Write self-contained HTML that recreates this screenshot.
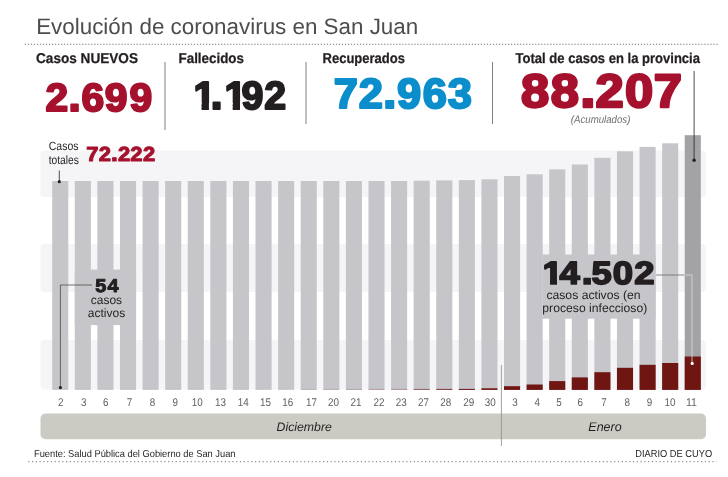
<!DOCTYPE html>
<html lang="es"><head><meta charset="utf-8"><title>Evolución de coronavirus en San Juan</title>
<style>
html,body{margin:0;padding:0;background:#fff;}
body{width:728px;height:477px;overflow:hidden;}
svg{display:block;}
text{font-family:"Liberation Sans",sans-serif;text-rendering:geometricPrecision;}
.b{font-weight:bold;}
.i{font-style:italic;}
.big{font-weight:bold;stroke-linejoin:round;}
.ga{fill-opacity:var(--a,1);stroke-opacity:var(--a,1);}
.gb{fill-opacity:var(--b,1);stroke-opacity:var(--b,1);}
</style></head><body>
<svg width="728" height="477" viewBox="0 0 728 477">
<rect width="728" height="477" fill="#fff"/>
<line x1="24.8" y1="44.3" x2="718" y2="44.3" stroke="#8f8f8f" stroke-width="1.2" stroke-dasharray="1.2 1.82"/>
<line x1="28.2" y1="461.7" x2="716.5" y2="461.7" stroke="#8f8f8f" stroke-width="1.2" stroke-dasharray="1.2 2.58"/>
<text x="36.2" y="34.1" font-size="22.3" fill="#4d4d4f" textLength="382" lengthAdjust="spacingAndGlyphs">Evolución de coronavirus en San Juan</text>
<rect x="40.5" y="150.5" width="665.5" height="46.50" rx="4" fill="#f5f5f8"/>
<rect x="40.5" y="244" width="665.5" height="48.00" rx="4" fill="#f5f5f8"/>
<rect x="40.5" y="340" width="665.5" height="49.60" rx="4" fill="#f5f5f8"/>
<line x1="165" y1="62" x2="165" y2="130" stroke="#808080" stroke-width="1"/>
<line x1="306" y1="62" x2="306" y2="124" stroke="#808080" stroke-width="1"/>
<line x1="492.5" y1="62" x2="492.5" y2="124" stroke="#808080" stroke-width="1"/>
<rect x="52.20" y="181.0" width="16.1" height="208.90" fill="#c6c6ca"/>
<rect x="74.79" y="181.0" width="16.1" height="208.90" fill="#c6c6ca"/>
<rect x="97.38" y="181.0" width="16.1" height="208.90" fill="#c6c6ca"/>
<rect x="119.97" y="181.0" width="16.1" height="208.90" fill="#c6c6ca"/>
<rect x="142.56" y="181.0" width="16.1" height="208.90" fill="#c6c6ca"/>
<rect x="165.15" y="181.0" width="16.1" height="208.90" fill="#c6c6ca"/>
<rect x="187.74" y="181.0" width="16.1" height="208.90" fill="#c6c6ca"/>
<rect x="210.33" y="181.0" width="16.1" height="208.90" fill="#c6c6ca"/>
<rect x="232.92" y="181.0" width="16.1" height="208.90" fill="#c6c6ca"/>
<rect x="255.51" y="181.0" width="16.1" height="208.90" fill="#c6c6ca"/>
<rect x="278.10" y="181.0" width="16.1" height="208.90" fill="#c6c6ca"/>
<rect x="300.69" y="181.0" width="16.1" height="208.90" fill="#c6c6ca"/>
<rect x="323.28" y="181.0" width="16.1" height="208.90" fill="#c6c6ca"/>
<rect x="345.87" y="181.0" width="16.1" height="208.90" fill="#c6c6ca"/>
<rect x="368.46" y="181.0" width="16.1" height="208.90" fill="#c6c6ca"/>
<rect x="391.05" y="181.0" width="16.1" height="208.90" fill="#c6c6ca"/>
<rect x="413.64" y="180.7" width="16.1" height="209.20" fill="#c6c6ca"/>
<rect x="436.23" y="180.4" width="16.1" height="209.50" fill="#c6c6ca"/>
<rect x="458.82" y="180.1" width="16.1" height="209.80" fill="#c6c6ca"/>
<rect x="481.41" y="179.3" width="16.1" height="210.60" fill="#c6c6ca"/>
<rect x="504.00" y="176" width="16.1" height="213.90" fill="#c6c6ca"/>
<rect x="526.59" y="174.3" width="16.1" height="215.60" fill="#c6c6ca"/>
<rect x="549.18" y="169.4" width="16.1" height="220.50" fill="#c6c6ca"/>
<rect x="571.77" y="164.5" width="16.1" height="225.40" fill="#c6c6ca"/>
<rect x="594.36" y="157.8" width="16.1" height="232.10" fill="#c6c6ca"/>
<rect x="616.95" y="151.3" width="16.1" height="238.60" fill="#c6c6ca"/>
<rect x="639.54" y="146.9" width="16.1" height="243.00" fill="#c6c6ca"/>
<rect x="662.13" y="143.3" width="16.1" height="246.60" fill="#c6c6ca"/>
<rect x="684.72" y="135.2" width="16.1" height="254.70" fill="#a2a2a7"/>
<rect x="74.79" y="269.6" width="61.28" height="55.5" fill="#c6c6ca"/>
<rect x="542.5" y="254.5" width="113.14" height="64.2" fill="#c6c6ca"/>
<rect x="481.41" y="388.3" width="16.1" height="1.60" fill="#6f1512"/>
<rect x="504.00" y="386.2" width="16.1" height="3.70" fill="#6f1512"/>
<rect x="526.59" y="384.5" width="16.1" height="5.40" fill="#6f1512"/>
<rect x="549.18" y="381.1" width="16.1" height="8.80" fill="#6f1512"/>
<rect x="571.77" y="377.4" width="16.1" height="12.50" fill="#6f1512"/>
<rect x="594.36" y="372.2" width="16.1" height="17.70" fill="#6f1512"/>
<rect x="616.95" y="367.8" width="16.1" height="22.10" fill="#6f1512"/>
<rect x="639.54" y="364.8" width="16.1" height="25.10" fill="#6f1512"/>
<rect x="662.13" y="363.0" width="16.1" height="26.90" fill="#6f1512"/>
<rect x="684.72" y="356.5" width="16.1" height="33.40" fill="#6f1512"/>
<rect x="300.69" y="388.90" width="16.1" height="1" fill="#6f1512" opacity="0.12"/>
<rect x="323.28" y="388.90" width="16.1" height="1" fill="#6f1512" opacity="0.16"/>
<rect x="345.87" y="388.90" width="16.1" height="1" fill="#6f1512" opacity="0.2"/>
<rect x="368.46" y="388.90" width="16.1" height="1" fill="#6f1512" opacity="0.25"/>
<rect x="391.05" y="388.90" width="16.1" height="1" fill="#6f1512" opacity="0.3"/>
<rect x="413.64" y="388.90" width="16.1" height="1" fill="#6f1512" opacity="0.6"/>
<rect x="436.23" y="388.90" width="16.1" height="1" fill="#6f1512" opacity="0.8"/>
<rect x="458.82" y="388.90" width="16.1" height="1" fill="#6f1512" opacity="1"/>
<text x="58.1" y="406.1" font-size="11.2" fill="#606164" textLength="5.5" lengthAdjust="spacingAndGlyphs">2</text>
<text x="80.9" y="406.1" font-size="11.2" fill="#606164" textLength="5.5" lengthAdjust="spacingAndGlyphs">3</text>
<text x="103.0" y="406.1" font-size="11.2" fill="#606164" textLength="5.5" lengthAdjust="spacingAndGlyphs">6</text>
<text x="126.7" y="406.1" font-size="11.2" fill="#606164" textLength="5.5" lengthAdjust="spacingAndGlyphs">7</text>
<text x="149.8" y="406.1" font-size="11.2" fill="#606164" textLength="5.5" lengthAdjust="spacingAndGlyphs">8</text>
<text x="172.6" y="406.1" font-size="11.2" fill="#606164" textLength="5.5" lengthAdjust="spacingAndGlyphs">9</text>
<text x="191.8" y="406.1" font-size="11.2" fill="#606164" textLength="11.0" lengthAdjust="spacingAndGlyphs">10</text>
<text x="214.9" y="406.1" font-size="11.2" fill="#606164" textLength="11.0" lengthAdjust="spacingAndGlyphs">13</text>
<text x="237.8" y="406.1" font-size="11.2" fill="#606164" textLength="11.0" lengthAdjust="spacingAndGlyphs">14</text>
<text x="260.1" y="406.1" font-size="11.2" fill="#606164" textLength="11.0" lengthAdjust="spacingAndGlyphs">15</text>
<text x="282.3" y="406.1" font-size="11.2" fill="#606164" textLength="11.0" lengthAdjust="spacingAndGlyphs">16</text>
<text x="306.1" y="406.1" font-size="11.2" fill="#606164" textLength="11.0" lengthAdjust="spacingAndGlyphs">17</text>
<text x="328.1" y="406.1" font-size="11.2" fill="#606164" textLength="11.0" lengthAdjust="spacingAndGlyphs">20</text>
<text x="350.6" y="406.1" font-size="11.2" fill="#606164" textLength="11.0" lengthAdjust="spacingAndGlyphs">21</text>
<text x="373.6" y="406.1" font-size="11.2" fill="#606164" textLength="11.0" lengthAdjust="spacingAndGlyphs">22</text>
<text x="395.8" y="406.1" font-size="11.2" fill="#606164" textLength="11.0" lengthAdjust="spacingAndGlyphs">23</text>
<text x="418.1" y="406.1" font-size="11.2" fill="#606164" textLength="11.0" lengthAdjust="spacingAndGlyphs">27</text>
<text x="440.2" y="406.1" font-size="11.2" fill="#606164" textLength="11.0" lengthAdjust="spacingAndGlyphs">28</text>
<text x="463.3" y="406.1" font-size="11.2" fill="#606164" textLength="11.0" lengthAdjust="spacingAndGlyphs">29</text>
<text x="484.8" y="406.1" font-size="11.2" fill="#606164" textLength="11.0" lengthAdjust="spacingAndGlyphs">30</text>
<text x="512.3" y="406.1" font-size="11.2" fill="#606164" textLength="5.5" lengthAdjust="spacingAndGlyphs">3</text>
<text x="534.4" y="406.1" font-size="11.2" fill="#606164" textLength="5.5" lengthAdjust="spacingAndGlyphs">4</text>
<text x="556.2" y="406.1" font-size="11.2" fill="#606164" textLength="5.5" lengthAdjust="spacingAndGlyphs">5</text>
<text x="577.6" y="406.1" font-size="11.2" fill="#606164" textLength="5.5" lengthAdjust="spacingAndGlyphs">6</text>
<text x="601.3" y="406.1" font-size="11.2" fill="#606164" textLength="5.5" lengthAdjust="spacingAndGlyphs">7</text>
<text x="624.4" y="406.1" font-size="11.2" fill="#606164" textLength="5.5" lengthAdjust="spacingAndGlyphs">8</text>
<text x="646.8" y="406.1" font-size="11.2" fill="#606164" textLength="5.5" lengthAdjust="spacingAndGlyphs">9</text>
<text x="664.6" y="406.1" font-size="11.2" fill="#606164" textLength="11.0" lengthAdjust="spacingAndGlyphs">10</text>
<text x="686.0" y="406.1" font-size="11.2" fill="#606164" textLength="11.0" lengthAdjust="spacingAndGlyphs">11</text>
<rect x="40.5" y="413.6" width="665.5" height="25.6" rx="5" fill="#cbcbc4"/>
<line x1="501.4" y1="365" x2="501.4" y2="446" stroke="#8a8a8a" stroke-width="0.8"/>
<text x="304.2" y="430.8" font-size="12.3" class="i" fill="#231f20" text-anchor="middle">Diciembre</text>
<text x="605" y="430.9" font-size="12.5" class="i" fill="#231f20" text-anchor="middle">Enero</text>
<text x="34" y="456.7" font-size="10" fill="#231f20" textLength="201.5" lengthAdjust="spacingAndGlyphs">Fuente: Salud Pública del Gobierno de San Juan</text>
<text x="635.3" y="456.6" font-size="10.2" fill="#231f20" textLength="76.8" lengthAdjust="spacingAndGlyphs">DIARIO DE CUYO</text>
<text x="36" y="63.2" font-size="14.2" class="b" fill="#231f20" stroke="#231f20" stroke-width="0.25" textLength="102" lengthAdjust="spacingAndGlyphs">Casos NUEVOS</text>
<text x="178.5" y="63.2" font-size="14.2" class="b" fill="#231f20" stroke="#231f20" stroke-width="0.25" textLength="65.5" lengthAdjust="spacingAndGlyphs">Fallecidos</text>
<text x="322.5" y="63.2" font-size="14.2" class="b" fill="#231f20" stroke="#231f20" stroke-width="0.25" textLength="82.5" lengthAdjust="spacingAndGlyphs">Recuperados</text>
<text x="515.5" y="63.2" font-size="14.2" class="b" fill="#231f20" stroke="#231f20" stroke-width="0.25" textLength="184.5" lengthAdjust="spacingAndGlyphs">Total de casos en la provincia</text>
<text id="n1" transform="scale(1.0385 1)" x="43.81 65.82 78.36 100.99 124.77" y="110.85" font-size="39.31" class="big" fill="#a6112d" stroke="#a6112d" stroke-width="2.0">2<tspan font-size="44.03">.</tspan>699</text>
<clipPath id="cp_n2"><path clip-rule="evenodd" d="M0 0H728V477H0ZM193.90 102.65H201.65V110.85H193.90ZM208.90 102.65H216.15V110.85H208.90ZM225.00 102.65H232.75V110.85H225.00ZM240.00 102.65H247.25V110.85H240.00Z"/></clipPath>
<defs><text id="n2" transform="scale(1.0013 1)" x="193.15 210.31 224.21 241.27 263.86" y="108.85" font-size="39.31" class="big" fill="#231f20" stroke="#231f20" stroke-width="2.0"><tspan class="ga">1</tspan><tspan class="gb" font-size="44.03">.</tspan><tspan class="ga">1</tspan><tspan class="gb">92</tspan></text></defs>
<g clip-path="url(#cp_n2)"><use href="#n2" style="--a:1;--b:0"/></g>
<use href="#n2" style="--a:0;--b:1"/>
<text id="n3" transform="scale(1.0323 1)" x="323.30 347.57 370.96 384.69 409.44 433.76" y="108.10" font-size="42.04" class="big" fill="#0b8ecb" stroke="#0b8ecb" stroke-width="2.15">72<tspan font-size="47.08">.</tspan>963</text>
<text id="n4" transform="scale(1.0780 1)" x="483.42 510.83 538.01 552.37 579.85 606.38" y="107.25" font-size="47.02" class="big" fill="#a6112d" stroke="#a6112d" stroke-width="2.4">88<tspan font-size="52.66">.</tspan>207</text>
<text x="570.8" y="122.7" font-size="10.8" class="i" fill="#6d6e71" textLength="59.6" lengthAdjust="spacingAndGlyphs">(Acumulados)</text>
<line x1="694.1" y1="71" x2="694.1" y2="160" stroke="#231f20" stroke-width="0.8"/>
<circle cx="694.1" cy="160.3" r="1.7" fill="#231f20"/>
<text x="48.7" y="149.9" font-size="12" fill="#231f20" textLength="29.8" lengthAdjust="spacingAndGlyphs">Casos</text>
<text x="48.7" y="163.9" font-size="12" fill="#231f20" textLength="30.2" lengthAdjust="spacingAndGlyphs">totales</text>
<text id="n5" transform="scale(1.0846 1)" x="79.59 91.16 102.25 108.72 120.18 131.82" y="160.60" font-size="20.26" class="big" fill="#a6112d" stroke="#a6112d" stroke-width="1.0">72<tspan font-size="22.69">.</tspan>222</text>
<line x1="59.3" y1="170.5" x2="59.3" y2="181.5" stroke="#231f20" stroke-width="0.8"/>
<circle cx="59.3" cy="181.7" r="1.6" fill="#231f20"/>
<polyline points="92,285 60.4,285 60.4,387.6" fill="none" stroke="#3a3a3a" stroke-width="0.7"/>
<circle cx="60.4" cy="387.6" r="1.6" fill="#231f20"/>
<text id="n6" transform="scale(1.0721 1)" x="88.82 100.16" y="291.60" font-size="18.53" class="big" fill="#231f20" stroke="#231f20" stroke-width="0.95">54</text>
<text x="106.4" y="304" font-size="12" fill="#231f20" text-anchor="middle">casos</text>
<text x="106.5" y="317" font-size="12" fill="#231f20" text-anchor="middle">activos</text>
<clipPath id="cp_n7"><path clip-rule="evenodd" d="M0 0H728V477H0ZM542.75 279.00H550.00V285.95H542.75ZM557.00 279.00H563.75V285.95H557.00Z"/></clipPath>
<defs><text id="n7" transform="scale(1.1294 1)" x="480.36 495.50 514.92 523.79 542.50 561.60" y="284.20" font-size="32.24" class="big" fill="#231f20" stroke="#231f20" stroke-width="1.7"><tspan class="ga">1</tspan><tspan class="gb">4</tspan><tspan class="gb" font-size="36.11">.</tspan><tspan class="gb">502</tspan></text></defs>
<g clip-path="url(#cp_n7)"><use href="#n7" style="--a:1;--b:0"/></g>
<use href="#n7" style="--a:0;--b:1"/>
<text x="546.4" y="299.1" font-size="12" fill="#231f20" textLength="94.2" lengthAdjust="spacingAndGlyphs">casos activos (en</text>
<text x="542.3" y="311.6" font-size="12" fill="#231f20" textLength="105" lengthAdjust="spacingAndGlyphs">proceso infeccioso)</text>
<line x1="656" y1="275" x2="684.6" y2="275" stroke="#6a6a6a" stroke-width="0.8"/>
<polyline points="684.6,275 692,275 692,363" fill="none" stroke="#dcdcdf" stroke-width="0.8"/>
<circle cx="692.2" cy="363.4" r="1.6" fill="#fff"/>
</svg></body></html>
